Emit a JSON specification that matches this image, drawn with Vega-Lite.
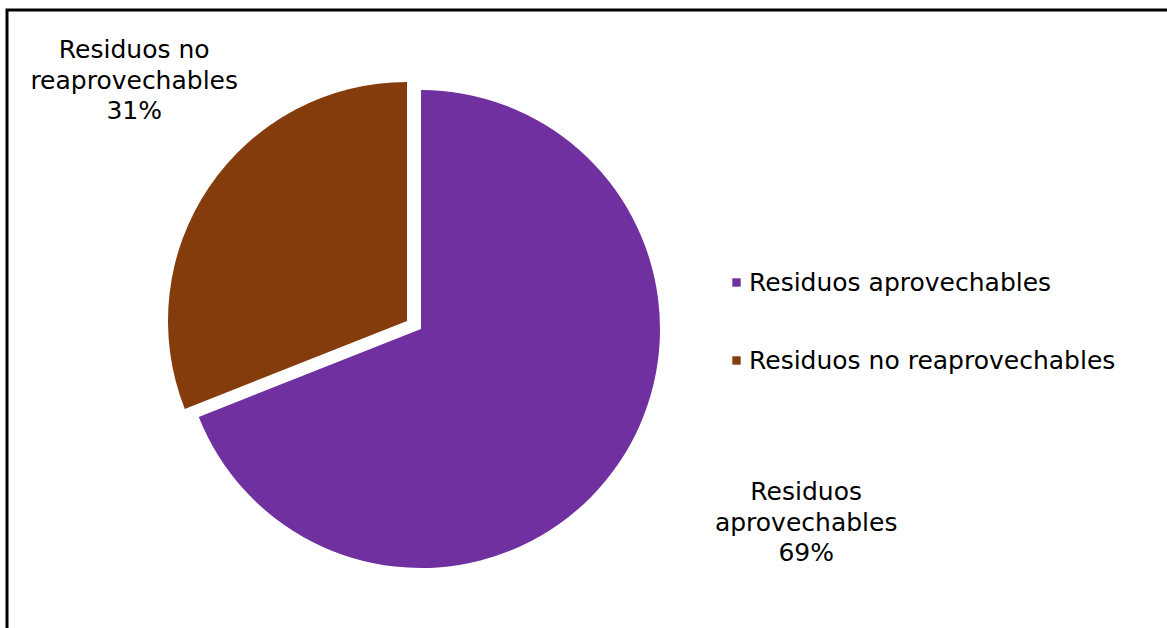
{
  "$schema": "https://vega.github.io/schema/vega-lite/v6.json",
  "width": 1160,
  "height": 618,
  "autosize": "none",
  "padding": {"left": 7, "top": 10, "right": 0, "bottom": 0},
  "background": "white",
  "view": {"stroke": "black", "strokeWidth": 3, "strokeDash": [1160, 1778], "fill": "white"},
  "data": {
    "values": [
      {"categoria": "Residuos aprovechables", "valor": 69, "etiqueta": "Residuos\naprovechables\n69%"},
      {"categoria": "Residuos no reaprovechables", "valor": 31, "etiqueta": "Residuos no\nreaprovechables\n31%"}
    ]
  },
  "encoding": {
    "theta": {"field": "valor", "type": "quantitative", "stack": true}
  },
  "layer": [
    {
      "mark": {
        "type": "arc",
        "outerRadius": 239,
        "xOffset": {"expr": "datum.categoria === 'Residuos no reaprovechables' ? -180 : -166"},
        "yOffset": {"expr": "datum.categoria === 'Residuos no reaprovechables' ? 2 : 10"}
      },
      "encoding": {
        "color": {
          "field": "categoria",
          "type": "nominal",
          "scale": {"domain": ["Residuos aprovechables", "Residuos no reaprovechables"], "range": ["#7030A0", "#843C0C"]},
          "legend": {
            "orient": "none",
            "legendX": 717,
            "legendY": 260,
            "title": null,
            "symbolType": "square",
            "symbolSize": 70,
            "symbolStrokeWidth": 0,
            "labelFont": "DejaVu Sans",
            "labelFontSize": 25,
            "labelColor": "black",
            "labelLimit": 0,
            "labelOffset": 0,
            "rowPadding": 52
          }
        }
      }
    },
    {
      "mark": {
        "type": "text",
        "font": "DejaVu Sans",
        "fontSize": 25,
        "lineHeight": 30.5,
        "lineBreak": "\n",
        "align": "center",
        "baseline": "middle",
        "color": "black",
        "xOffset": -166,
        "yOffset": 10,
        "radius": {"expr": "datum.categoria === 'Residuos no reaprovechables' ? 377 : 427"},
        "dx": {"expr": "datum.categoria === 'Residuos no reaprovechables' ? 25 : 32"},
        "dy": {"expr": "datum.categoria === 'Residuos no reaprovechables' ? -67 : -77"}
      },
      "encoding": {
        "detail": {"field": "categoria", "type": "nominal"},
        "text": {"field": "etiqueta", "type": "nominal"}
      }
    }
  ]
}
